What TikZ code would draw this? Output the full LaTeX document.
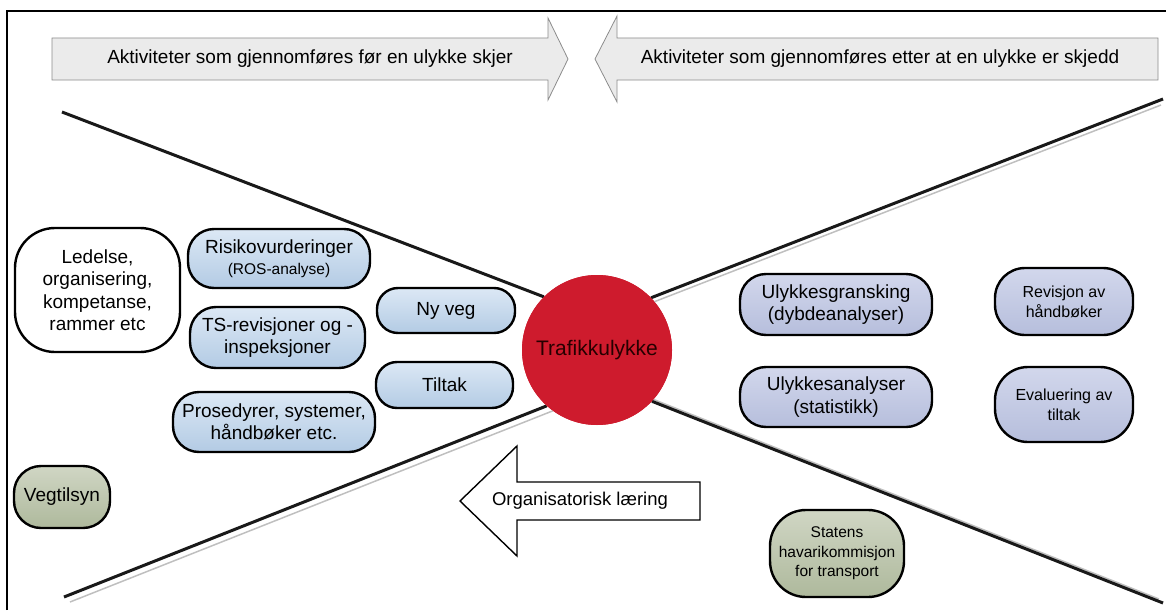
\documentclass[tikz,border=0pt]{standalone}
\usepackage{fontspec}
\setmainfont{Liberation Sans}
\definecolor{blueT}{HTML}{DCE8F5}
\definecolor{blueB}{HTML}{B3CBE4}
\definecolor{lavT}{HTML}{D2D7EC}
\definecolor{lavB}{HTML}{B6BEDC}
\definecolor{grnT}{HTML}{D0D6C4}
\definecolor{grnB}{HTML}{AEB99C}
\definecolor{arrfill}{HTML}{EBEBEB}
\definecolor{crash}{HTML}{CE1B2D}
\begin{document}
\begin{tikzpicture}[x=1pt,y=-1pt,
  box/.style={draw=black, line width=2.4pt, rounded corners=26pt, align=center,
    inner sep=0pt, font=\fontsize{19}{22.5}\selectfont},
  bluebox/.style={box, top color=blueT, bottom color=blueB},
  lavbox/.style={box, top color=lavT, bottom color=lavB},
  grnbox/.style={box, top color=grnT, bottom color=grnB},
  whitebox/.style={box, fill=white},
  toparrow/.style={draw=black!45, line width=0.8pt, fill=arrfill},
  learnarrow/.style={draw=black, line width=1.4pt, fill=white},
  xline/.style={draw=black!90, line width=3pt},
  xshadow/.style={draw=black!25, line width=1.5pt},
  frameline/.style={draw=black, line width=1.8pt},
  labeltext/.style={font=\fontsize{19}{22}\selectfont, inner sep=0pt},
  crashnode/.style={circle, fill=crash, minimum size=150pt, inner sep=0pt, text=black!85!red,
    font=\fontsize{21}{24}\selectfont}
]
\useasboundingbox (0,0) rectangle (1166,610);
% frame
\draw[frameline] (7,610) -- (7,11) -- (1166,11);

% top arrows
\draw[toparrow] (52,38) -- (548,38) -- (548,18) -- (568,59) -- (548,100) -- (548,80) -- (52,80) -- cycle;
\node[labeltext] (before) at (310,59) {Aktiviteter som gjennomføres før en ulykke skjer};
\draw[toparrow] (1158,38) -- (617,38) -- (617,16) -- (595,59) -- (617,102) -- (617,80) -- (1158,80) -- cycle;
\node[labeltext] (after) at (880,59) {Aktiviteter som gjennomføres etter at en ulykke er skjedd};

% central node (placed first so the lines can end on its border)
\node[crashnode] (crash) at (597,350) {};

% X lines
\coordinate (ul) at (62,112);
\coordinate (ur) at (1163,99);
\coordinate (ll) at (64,597);
\coordinate (lr) at (1163,603);
\draw[xshadow] ([shift={(-2,6)}]ur) -- ([shift={(-2,6)}]crash.44);
\draw[xshadow] ([shift={(6,5)}]ll) -- ([shift={(6,5)}]crash.228);
\draw[xshadow] ([shift={(-4,-4)}]lr) -- ([shift={(-4,-4)}]crash.-43);
\draw[xline] (ul) -- (crash.135);
\draw[xline] (ur) -- (crash.44);
\draw[xline] (ll) -- (crash.228);
\draw[xline] (lr) -- (crash.-43);
\node[crashnode] (crashtop) at (crash.center) {Trafikkulykke};

% left side
\node[whitebox, minimum width=165pt, minimum height=124pt, rounded corners=40pt] (ledelse) at (97.5,290)
  {Ledelse,\\organisering,\\kompetanse,\\rammer etc};
\node[bluebox, minimum width=182pt, minimum height=59pt] (risiko) at (279,258.5)
  {Risikovurderinger\\[-1pt]{\fontsize{15.5}{18}\selectfont (ROS-analyse)}};
\node[bluebox, minimum width=175pt, minimum height=61pt] (ts) at (277.5,337.5)
  {TS-revisjoner og -\\inspeksjoner};
\node[bluebox, minimum width=202pt, minimum height=60pt] (prosedyrer) at (274,422)
  {Prosedyrer, systemer,\\håndbøker etc.};
\node[bluebox, minimum width=138pt, minimum height=45pt, rounded corners=21pt] (nyveg) at (446,310.5) {Ny veg};
\node[bluebox, minimum width=137pt, minimum height=46pt, rounded corners=21pt] (tiltak) at (444.5,385) {Tiltak};
\node[grnbox, minimum width=96pt, minimum height=62pt, rounded corners=27pt] (vegtilsyn) at (62,497) {Vegtilsyn};

% right side
\node[lavbox, minimum width=192pt, minimum height=61pt] (gransking) at (836,304.5)
  {Ulykkesgransking\\(dybdeanalyser)};
\node[lavbox, minimum width=192pt, minimum height=60pt] (analyser) at (836,397)
  {Ulykkesanalyser\\(statistikk)};
\node[lavbox, minimum width=138pt, minimum height=67pt, rounded corners=30pt,
  font=\fontsize{16}{20}\selectfont] (revisjon) at (1064,301.5) {Revisjon av\\håndbøker};
\node[lavbox, minimum width=138pt, minimum height=75pt, rounded corners=33pt,
  font=\fontsize{16}{20}\selectfont] (evaluering) at (1064,404.5) {Evaluering av\\tiltak};
\node[grnbox, minimum width=134pt, minimum height=87pt, rounded corners=36pt,
  font=\fontsize{15.5}{19.5}\selectfont] (statens) at (837,553.5)
  {Statens\\havarikommisjon\\for transport};

% learning arrow
\draw[learnarrow] (700,482) -- (517,482) -- (517,446) -- (460,501) -- (517,556) -- (517,520) -- (700,520) -- cycle;
\node[labeltext, font=\fontsize{18.5}{22}\selectfont] (learning) at (580,501) {Organisatorisk læring};
\end{tikzpicture}
\end{document}
